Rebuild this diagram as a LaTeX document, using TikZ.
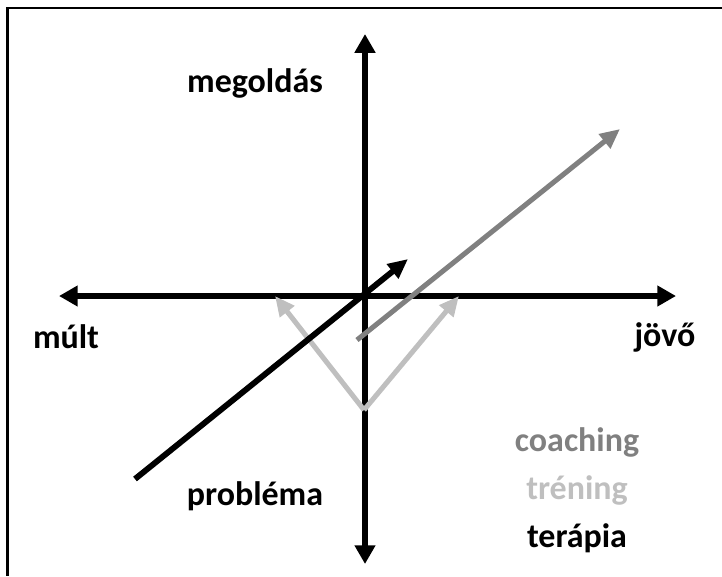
\documentclass[tikz,border=0pt]{standalone}
\usepackage{fontspec}
\setmainfont{Carlito}
\usetikzlibrary{arrows.meta}
\definecolor{coachgray}{HTML}{808080}
\definecolor{trengray}{HTML}{BFBFBF}
\tikzset{
  axis/.style={line width=5.2pt,{Triangle[length=16pt,width=17pt]}-{Triangle[length=16pt,width=17pt]}},
  path/.style={line width=4.3pt,-{Triangle[length=17pt,width=15pt]}},
  lbl/.style={font=\bfseries\fontsize{29}{32}\selectfont,inner sep=1pt}
}
\begin{document}
\begin{tikzpicture}[x=0.03cm,y=-0.03cm]
  \useasboundingbox (0,0) rectangle (722,576);
  % frame (top and left only)
  \coordinate (fr) at (722,8);
  \coordinate (fc) at (7.5,8);
  \coordinate (fb) at (7.5,576);
  \draw[line width=2.4pt] (fr)--(fc)--(fb);
  \coordinate (top) at (365,34);
  \coordinate (bot) at (365,564);
  \coordinate (lft) at (59,296);
  \coordinate (rgt) at (676,296);
  \draw[axis] (bot)--(top);
  \draw[axis] (lft)--(rgt);
  % training
  \coordinate (v) at (364,410);
  \coordinate (vl) at (275,296);
  \coordinate (vr) at (459,296);
  \draw[path,trengray] (v)--(vl);
  \draw[path,trengray] (v)--(vr);
  % therapy
  \coordinate (t0) at (135,479);
  \coordinate (t1) at (408,259);
  \draw[path,black,line width=5pt] (t0)--(t1);
  % coaching
  \coordinate (c0) at (357,340);
  \coordinate (c1) at (620,129);
  \draw[path,coachgray] (c0)--(c1);
  \node[lbl] (megold) at (255,83) {megoldás};
  \node[lbl] (probl) at (255,496) {probléma};
  \node[lbl] (mult) at (66,337) {múlt};
  \node[lbl] (jovo) at (665,337) {jövő};
  \node[lbl,coachgray] (coach) at (577,442) {coaching};
  \node[lbl,trengray] (tren) at (577,490) {tréning};
  \node[lbl] (ter) at (577,538) {terápia};
\end{tikzpicture}
\end{document}
